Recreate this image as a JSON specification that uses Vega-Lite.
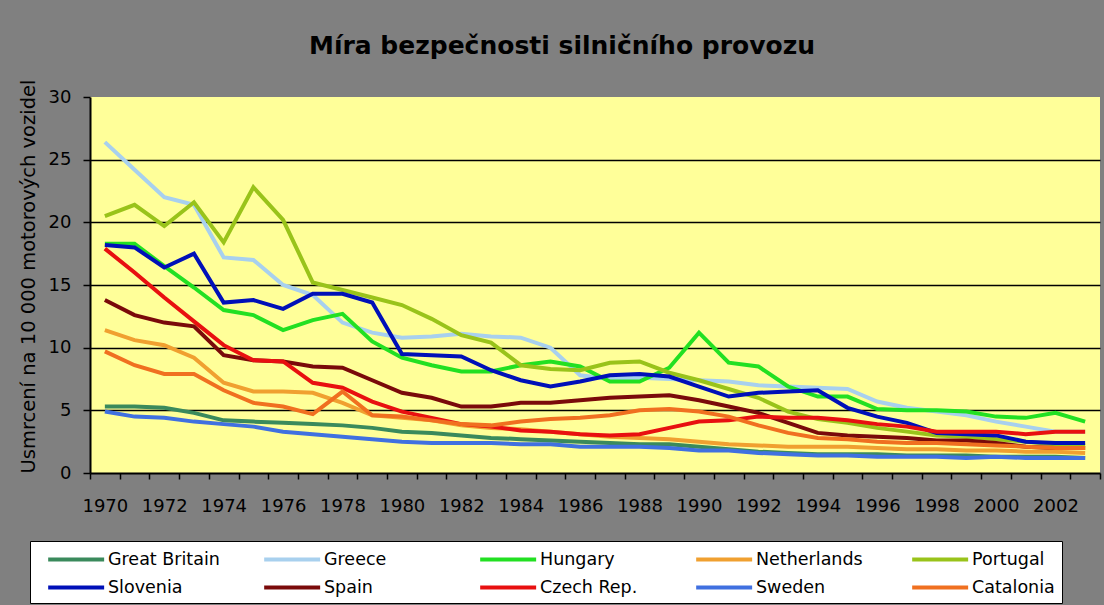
{
  "$schema": "https://vega.github.io/schema/vega-lite/v6.json",
  "width": 1010,
  "height": 376,
  "autosize": {"type": "none"},
  "padding": {"left": 90, "top": 97, "right": 4, "bottom": 132},
  "background": "#808080",
  "title": {"text": "Míra bezpečnosti silničního provozu", "font": "DejaVu Sans", "fontSize": 25, "fontWeight": "bold", "color": "black", "anchor": "middle", "dx": -33, "offset": 20},
  "config": {"view": {"fill": "#FFFF99", "stroke": null}},
  "datasets": {
    "main": [
      {"country": "Great Britain", "year": 1970, "value": 5.3}, {"country": "Great Britain", "year": 1971, "value": 5.3}, {"country": "Great Britain", "year": 1972, "value": 5.2}, {"country": "Great Britain", "year": 1973, "value": 4.8}, {"country": "Great Britain", "year": 1974, "value": 4.2}, {"country": "Great Britain", "year": 1975, "value": 4.1}, {"country": "Great Britain", "year": 1976, "value": 4.0}, {"country": "Great Britain", "year": 1977, "value": 3.9}, {"country": "Great Britain", "year": 1978, "value": 3.8}, {"country": "Great Britain", "year": 1979, "value": 3.6}, {"country": "Great Britain", "year": 1980, "value": 3.3}, {"country": "Great Britain", "year": 1981, "value": 3.2}, {"country": "Great Britain", "year": 1982, "value": 3.0}, {"country": "Great Britain", "year": 1983, "value": 2.8}, {"country": "Great Britain", "year": 1984, "value": 2.7}, {"country": "Great Britain", "year": 1985, "value": 2.6}, {"country": "Great Britain", "year": 1986, "value": 2.5}, {"country": "Great Britain", "year": 1987, "value": 2.4}, {"country": "Great Britain", "year": 1988, "value": 2.3}, {"country": "Great Britain", "year": 1989, "value": 2.3}, {"country": "Great Britain", "year": 1990, "value": 2.1}, {"country": "Great Britain", "year": 1991, "value": 1.9}, {"country": "Great Britain", "year": 1992, "value": 1.7}, {"country": "Great Britain", "year": 1993, "value": 1.6}, {"country": "Great Britain", "year": 1994, "value": 1.5}, {"country": "Great Britain", "year": 1995, "value": 1.5}, {"country": "Great Britain", "year": 1996, "value": 1.5}, {"country": "Great Britain", "year": 1997, "value": 1.4}, {"country": "Great Britain", "year": 1998, "value": 1.4}, {"country": "Great Britain", "year": 1999, "value": 1.4}, {"country": "Great Britain", "year": 2000, "value": 1.3}, {"country": "Great Britain", "year": 2001, "value": 1.3}, {"country": "Great Britain", "year": 2002, "value": 1.3}, {"country": "Great Britain", "year": 2003, "value": 1.2},
      {"country": "Greece", "year": 1970, "value": 26.4}, {"country": "Greece", "year": 1971, "value": 24.2}, {"country": "Greece", "year": 1972, "value": 22.0}, {"country": "Greece", "year": 1973, "value": 21.4}, {"country": "Greece", "year": 1974, "value": 17.2}, {"country": "Greece", "year": 1975, "value": 17.0}, {"country": "Greece", "year": 1976, "value": 15.0}, {"country": "Greece", "year": 1977, "value": 14.2}, {"country": "Greece", "year": 1978, "value": 12.0}, {"country": "Greece", "year": 1979, "value": 11.2}, {"country": "Greece", "year": 1980, "value": 10.8}, {"country": "Greece", "year": 1981, "value": 10.9}, {"country": "Greece", "year": 1982, "value": 11.1}, {"country": "Greece", "year": 1983, "value": 10.9}, {"country": "Greece", "year": 1984, "value": 10.8}, {"country": "Greece", "year": 1985, "value": 10.0}, {"country": "Greece", "year": 1986, "value": 7.8}, {"country": "Greece", "year": 1987, "value": 7.5}, {"country": "Greece", "year": 1988, "value": 7.6}, {"country": "Greece", "year": 1989, "value": 7.5}, {"country": "Greece", "year": 1990, "value": 7.4}, {"country": "Greece", "year": 1991, "value": 7.3}, {"country": "Greece", "year": 1992, "value": 7.0}, {"country": "Greece", "year": 1993, "value": 6.9}, {"country": "Greece", "year": 1994, "value": 6.8}, {"country": "Greece", "year": 1995, "value": 6.7}, {"country": "Greece", "year": 1996, "value": 5.7}, {"country": "Greece", "year": 1997, "value": 5.2}, {"country": "Greece", "year": 1998, "value": 4.9}, {"country": "Greece", "year": 1999, "value": 4.6}, {"country": "Greece", "year": 2000, "value": 4.1}, {"country": "Greece", "year": 2001, "value": 3.7}, {"country": "Greece", "year": 2002, "value": 3.3}, {"country": "Greece", "year": 2003, "value": 3.3},
      {"country": "Hungary", "year": 1970, "value": 18.3}, {"country": "Hungary", "year": 1971, "value": 18.3}, {"country": "Hungary", "year": 1972, "value": 16.5}, {"country": "Hungary", "year": 1973, "value": 14.8}, {"country": "Hungary", "year": 1974, "value": 13.0}, {"country": "Hungary", "year": 1975, "value": 12.6}, {"country": "Hungary", "year": 1976, "value": 11.4}, {"country": "Hungary", "year": 1977, "value": 12.2}, {"country": "Hungary", "year": 1978, "value": 12.7}, {"country": "Hungary", "year": 1979, "value": 10.5}, {"country": "Hungary", "year": 1980, "value": 9.2}, {"country": "Hungary", "year": 1981, "value": 8.6}, {"country": "Hungary", "year": 1982, "value": 8.1}, {"country": "Hungary", "year": 1983, "value": 8.1}, {"country": "Hungary", "year": 1984, "value": 8.6}, {"country": "Hungary", "year": 1985, "value": 8.9}, {"country": "Hungary", "year": 1986, "value": 8.5}, {"country": "Hungary", "year": 1987, "value": 7.3}, {"country": "Hungary", "year": 1988, "value": 7.3}, {"country": "Hungary", "year": 1989, "value": 8.4}, {"country": "Hungary", "year": 1990, "value": 11.2}, {"country": "Hungary", "year": 1991, "value": 8.8}, {"country": "Hungary", "year": 1992, "value": 8.5}, {"country": "Hungary", "year": 1993, "value": 6.9}, {"country": "Hungary", "year": 1994, "value": 6.1}, {"country": "Hungary", "year": 1995, "value": 6.1}, {"country": "Hungary", "year": 1996, "value": 5.1}, {"country": "Hungary", "year": 1997, "value": 5.0}, {"country": "Hungary", "year": 1998, "value": 5.0}, {"country": "Hungary", "year": 1999, "value": 4.9}, {"country": "Hungary", "year": 2000, "value": 4.5}, {"country": "Hungary", "year": 2001, "value": 4.4}, {"country": "Hungary", "year": 2002, "value": 4.8}, {"country": "Hungary", "year": 2003, "value": 4.1},
      {"country": "Netherlands", "year": 1970, "value": 11.4}, {"country": "Netherlands", "year": 1971, "value": 10.6}, {"country": "Netherlands", "year": 1972, "value": 10.2}, {"country": "Netherlands", "year": 1973, "value": 9.2}, {"country": "Netherlands", "year": 1974, "value": 7.2}, {"country": "Netherlands", "year": 1975, "value": 6.5}, {"country": "Netherlands", "year": 1976, "value": 6.5}, {"country": "Netherlands", "year": 1977, "value": 6.4}, {"country": "Netherlands", "year": 1978, "value": 5.6}, {"country": "Netherlands", "year": 1979, "value": 4.6}, {"country": "Netherlands", "year": 1980, "value": 4.4}, {"country": "Netherlands", "year": 1981, "value": 4.2}, {"country": "Netherlands", "year": 1982, "value": 3.8}, {"country": "Netherlands", "year": 1983, "value": 3.6}, {"country": "Netherlands", "year": 1984, "value": 3.5}, {"country": "Netherlands", "year": 1985, "value": 3.3}, {"country": "Netherlands", "year": 1986, "value": 3.1}, {"country": "Netherlands", "year": 1987, "value": 2.9}, {"country": "Netherlands", "year": 1988, "value": 2.8}, {"country": "Netherlands", "year": 1989, "value": 2.7}, {"country": "Netherlands", "year": 1990, "value": 2.5}, {"country": "Netherlands", "year": 1991, "value": 2.3}, {"country": "Netherlands", "year": 1992, "value": 2.2}, {"country": "Netherlands", "year": 1993, "value": 2.1}, {"country": "Netherlands", "year": 1994, "value": 2.1}, {"country": "Netherlands", "year": 1995, "value": 2.1}, {"country": "Netherlands", "year": 1996, "value": 2.0}, {"country": "Netherlands", "year": 1997, "value": 1.9}, {"country": "Netherlands", "year": 1998, "value": 1.9}, {"country": "Netherlands", "year": 1999, "value": 1.8}, {"country": "Netherlands", "year": 2000, "value": 1.8}, {"country": "Netherlands", "year": 2001, "value": 1.7}, {"country": "Netherlands", "year": 2002, "value": 1.7}, {"country": "Netherlands", "year": 2003, "value": 1.6},
      {"country": "Portugal", "year": 1970, "value": 20.5}, {"country": "Portugal", "year": 1971, "value": 21.4}, {"country": "Portugal", "year": 1972, "value": 19.7}, {"country": "Portugal", "year": 1973, "value": 21.6}, {"country": "Portugal", "year": 1974, "value": 18.4}, {"country": "Portugal", "year": 1975, "value": 22.8}, {"country": "Portugal", "year": 1976, "value": 20.2}, {"country": "Portugal", "year": 1977, "value": 15.2}, {"country": "Portugal", "year": 1978, "value": 14.6}, {"country": "Portugal", "year": 1979, "value": 14.0}, {"country": "Portugal", "year": 1980, "value": 13.4}, {"country": "Portugal", "year": 1981, "value": 12.3}, {"country": "Portugal", "year": 1982, "value": 11.0}, {"country": "Portugal", "year": 1983, "value": 10.4}, {"country": "Portugal", "year": 1984, "value": 8.6}, {"country": "Portugal", "year": 1985, "value": 8.3}, {"country": "Portugal", "year": 1986, "value": 8.2}, {"country": "Portugal", "year": 1987, "value": 8.8}, {"country": "Portugal", "year": 1988, "value": 8.9}, {"country": "Portugal", "year": 1989, "value": 8.0}, {"country": "Portugal", "year": 1990, "value": 7.4}, {"country": "Portugal", "year": 1991, "value": 6.7}, {"country": "Portugal", "year": 1992, "value": 6.0}, {"country": "Portugal", "year": 1993, "value": 4.9}, {"country": "Portugal", "year": 1994, "value": 4.3}, {"country": "Portugal", "year": 1995, "value": 4.0}, {"country": "Portugal", "year": 1996, "value": 3.6}, {"country": "Portugal", "year": 1997, "value": 3.3}, {"country": "Portugal", "year": 1998, "value": 3.0}, {"country": "Portugal", "year": 1999, "value": 2.9}, {"country": "Portugal", "year": 2000, "value": 2.7}, {"country": "Portugal", "year": 2001, "value": 2.5}, {"country": "Portugal", "year": 2002, "value": 2.3}, {"country": "Portugal", "year": 2003, "value": 2.2},
      {"country": "Slovenia", "year": 1970, "value": 18.2}, {"country": "Slovenia", "year": 1971, "value": 18.0}, {"country": "Slovenia", "year": 1972, "value": 16.4}, {"country": "Slovenia", "year": 1973, "value": 17.5}, {"country": "Slovenia", "year": 1974, "value": 13.6}, {"country": "Slovenia", "year": 1975, "value": 13.8}, {"country": "Slovenia", "year": 1976, "value": 13.1}, {"country": "Slovenia", "year": 1977, "value": 14.3}, {"country": "Slovenia", "year": 1978, "value": 14.3}, {"country": "Slovenia", "year": 1979, "value": 13.6}, {"country": "Slovenia", "year": 1980, "value": 9.5}, {"country": "Slovenia", "year": 1981, "value": 9.4}, {"country": "Slovenia", "year": 1982, "value": 9.3}, {"country": "Slovenia", "year": 1983, "value": 8.2}, {"country": "Slovenia", "year": 1984, "value": 7.4}, {"country": "Slovenia", "year": 1985, "value": 6.9}, {"country": "Slovenia", "year": 1986, "value": 7.3}, {"country": "Slovenia", "year": 1987, "value": 7.8}, {"country": "Slovenia", "year": 1988, "value": 7.9}, {"country": "Slovenia", "year": 1989, "value": 7.7}, {"country": "Slovenia", "year": 1990, "value": 6.9}, {"country": "Slovenia", "year": 1991, "value": 6.1}, {"country": "Slovenia", "year": 1992, "value": 6.4}, {"country": "Slovenia", "year": 1993, "value": 6.5}, {"country": "Slovenia", "year": 1994, "value": 6.6}, {"country": "Slovenia", "year": 1995, "value": 5.2}, {"country": "Slovenia", "year": 1996, "value": 4.5}, {"country": "Slovenia", "year": 1997, "value": 4.0}, {"country": "Slovenia", "year": 1998, "value": 3.2}, {"country": "Slovenia", "year": 1999, "value": 3.1}, {"country": "Slovenia", "year": 2000, "value": 3.0}, {"country": "Slovenia", "year": 2001, "value": 2.5}, {"country": "Slovenia", "year": 2002, "value": 2.4}, {"country": "Slovenia", "year": 2003, "value": 2.4},
      {"country": "Spain", "year": 1970, "value": 13.8}, {"country": "Spain", "year": 1971, "value": 12.6}, {"country": "Spain", "year": 1972, "value": 12.0}, {"country": "Spain", "year": 1973, "value": 11.7}, {"country": "Spain", "year": 1974, "value": 9.4}, {"country": "Spain", "year": 1975, "value": 9.0}, {"country": "Spain", "year": 1976, "value": 8.9}, {"country": "Spain", "year": 1977, "value": 8.5}, {"country": "Spain", "year": 1978, "value": 8.4}, {"country": "Spain", "year": 1979, "value": 7.4}, {"country": "Spain", "year": 1980, "value": 6.4}, {"country": "Spain", "year": 1981, "value": 6.0}, {"country": "Spain", "year": 1982, "value": 5.3}, {"country": "Spain", "year": 1983, "value": 5.3}, {"country": "Spain", "year": 1984, "value": 5.6}, {"country": "Spain", "year": 1985, "value": 5.6}, {"country": "Spain", "year": 1986, "value": 5.8}, {"country": "Spain", "year": 1987, "value": 6.0}, {"country": "Spain", "year": 1988, "value": 6.1}, {"country": "Spain", "year": 1989, "value": 6.2}, {"country": "Spain", "year": 1990, "value": 5.8}, {"country": "Spain", "year": 1991, "value": 5.3}, {"country": "Spain", "year": 1992, "value": 4.8}, {"country": "Spain", "year": 1993, "value": 4.0}, {"country": "Spain", "year": 1994, "value": 3.2}, {"country": "Spain", "year": 1995, "value": 3.0}, {"country": "Spain", "year": 1996, "value": 2.9}, {"country": "Spain", "year": 1997, "value": 2.8}, {"country": "Spain", "year": 1998, "value": 2.6}, {"country": "Spain", "year": 1999, "value": 2.6}, {"country": "Spain", "year": 2000, "value": 2.4}, {"country": "Spain", "year": 2001, "value": 2.1}, {"country": "Spain", "year": 2002, "value": 2.0}, {"country": "Spain", "year": 2003, "value": 2.0},
      {"country": "Czech Rep.", "year": 1970, "value": 17.9}, {"country": "Czech Rep.", "year": 1971, "value": 16.0}, {"country": "Czech Rep.", "year": 1972, "value": 14.0}, {"country": "Czech Rep.", "year": 1973, "value": 12.1}, {"country": "Czech Rep.", "year": 1974, "value": 10.2}, {"country": "Czech Rep.", "year": 1975, "value": 9.0}, {"country": "Czech Rep.", "year": 1976, "value": 8.9}, {"country": "Czech Rep.", "year": 1977, "value": 7.2}, {"country": "Czech Rep.", "year": 1978, "value": 6.8}, {"country": "Czech Rep.", "year": 1979, "value": 5.7}, {"country": "Czech Rep.", "year": 1980, "value": 4.9}, {"country": "Czech Rep.", "year": 1981, "value": 4.4}, {"country": "Czech Rep.", "year": 1982, "value": 3.9}, {"country": "Czech Rep.", "year": 1983, "value": 3.7}, {"country": "Czech Rep.", "year": 1984, "value": 3.4}, {"country": "Czech Rep.", "year": 1985, "value": 3.3}, {"country": "Czech Rep.", "year": 1986, "value": 3.1}, {"country": "Czech Rep.", "year": 1987, "value": 3.0}, {"country": "Czech Rep.", "year": 1988, "value": 3.1}, {"country": "Czech Rep.", "year": 1989, "value": 3.6}, {"country": "Czech Rep.", "year": 1990, "value": 4.1}, {"country": "Czech Rep.", "year": 1991, "value": 4.2}, {"country": "Czech Rep.", "year": 1992, "value": 4.5}, {"country": "Czech Rep.", "year": 1993, "value": 4.4}, {"country": "Czech Rep.", "year": 1994, "value": 4.4}, {"country": "Czech Rep.", "year": 1995, "value": 4.2}, {"country": "Czech Rep.", "year": 1996, "value": 3.9}, {"country": "Czech Rep.", "year": 1997, "value": 3.7}, {"country": "Czech Rep.", "year": 1998, "value": 3.3}, {"country": "Czech Rep.", "year": 1999, "value": 3.3}, {"country": "Czech Rep.", "year": 2000, "value": 3.3}, {"country": "Czech Rep.", "year": 2001, "value": 3.1}, {"country": "Czech Rep.", "year": 2002, "value": 3.3}, {"country": "Czech Rep.", "year": 2003, "value": 3.3},
      {"country": "Sweden", "year": 1970, "value": 4.9}, {"country": "Sweden", "year": 1971, "value": 4.5}, {"country": "Sweden", "year": 1972, "value": 4.4}, {"country": "Sweden", "year": 1973, "value": 4.1}, {"country": "Sweden", "year": 1974, "value": 3.9}, {"country": "Sweden", "year": 1975, "value": 3.7}, {"country": "Sweden", "year": 1976, "value": 3.3}, {"country": "Sweden", "year": 1977, "value": 3.1}, {"country": "Sweden", "year": 1978, "value": 2.9}, {"country": "Sweden", "year": 1979, "value": 2.7}, {"country": "Sweden", "year": 1980, "value": 2.5}, {"country": "Sweden", "year": 1981, "value": 2.4}, {"country": "Sweden", "year": 1982, "value": 2.4}, {"country": "Sweden", "year": 1983, "value": 2.4}, {"country": "Sweden", "year": 1984, "value": 2.3}, {"country": "Sweden", "year": 1985, "value": 2.3}, {"country": "Sweden", "year": 1986, "value": 2.1}, {"country": "Sweden", "year": 1987, "value": 2.1}, {"country": "Sweden", "year": 1988, "value": 2.1}, {"country": "Sweden", "year": 1989, "value": 2.0}, {"country": "Sweden", "year": 1990, "value": 1.8}, {"country": "Sweden", "year": 1991, "value": 1.8}, {"country": "Sweden", "year": 1992, "value": 1.6}, {"country": "Sweden", "year": 1993, "value": 1.5}, {"country": "Sweden", "year": 1994, "value": 1.4}, {"country": "Sweden", "year": 1995, "value": 1.4}, {"country": "Sweden", "year": 1996, "value": 1.3}, {"country": "Sweden", "year": 1997, "value": 1.3}, {"country": "Sweden", "year": 1998, "value": 1.3}, {"country": "Sweden", "year": 1999, "value": 1.2}, {"country": "Sweden", "year": 2000, "value": 1.3}, {"country": "Sweden", "year": 2001, "value": 1.2}, {"country": "Sweden", "year": 2002, "value": 1.2}, {"country": "Sweden", "year": 2003, "value": 1.2},
      {"country": "Catalonia", "year": 1970, "value": 9.7}, {"country": "Catalonia", "year": 1971, "value": 8.6}, {"country": "Catalonia", "year": 1972, "value": 7.9}, {"country": "Catalonia", "year": 1973, "value": 7.9}, {"country": "Catalonia", "year": 1974, "value": 6.6}, {"country": "Catalonia", "year": 1975, "value": 5.6}, {"country": "Catalonia", "year": 1976, "value": 5.3}, {"country": "Catalonia", "year": 1977, "value": 4.7}, {"country": "Catalonia", "year": 1978, "value": 6.5}, {"country": "Catalonia", "year": 1979, "value": 4.6}, {"country": "Catalonia", "year": 1980, "value": 4.5}, {"country": "Catalonia", "year": 1981, "value": 4.2}, {"country": "Catalonia", "year": 1982, "value": 3.9}, {"country": "Catalonia", "year": 1983, "value": 3.8}, {"country": "Catalonia", "year": 1984, "value": 4.1}, {"country": "Catalonia", "year": 1985, "value": 4.3}, {"country": "Catalonia", "year": 1986, "value": 4.4}, {"country": "Catalonia", "year": 1987, "value": 4.6}, {"country": "Catalonia", "year": 1988, "value": 5.0}, {"country": "Catalonia", "year": 1989, "value": 5.1}, {"country": "Catalonia", "year": 1990, "value": 4.9}, {"country": "Catalonia", "year": 1991, "value": 4.5}, {"country": "Catalonia", "year": 1992, "value": 3.8}, {"country": "Catalonia", "year": 1993, "value": 3.2}, {"country": "Catalonia", "year": 1994, "value": 2.8}, {"country": "Catalonia", "year": 1995, "value": 2.7}, {"country": "Catalonia", "year": 1996, "value": 2.5}, {"country": "Catalonia", "year": 1997, "value": 2.4}, {"country": "Catalonia", "year": 1998, "value": 2.4}, {"country": "Catalonia", "year": 1999, "value": 2.3}, {"country": "Catalonia", "year": 2000, "value": 2.2}, {"country": "Catalonia", "year": 2001, "value": 2.1}, {"country": "Catalonia", "year": 2002, "value": 2.0}, {"country": "Catalonia", "year": 2003, "value": 2.0}
    ]
  },
  "data": {"name": "main"},
  "mark": {"type": "line", "strokeWidth": 4},
  "encoding": {
    "x": {
      "field": "year", "type": "quantitative",
      "scale": {"domain": [1969.5, 2003.5], "nice": false, "zero": false},
      "axis": {
        "values": [1969.5, 1970.5, 1971.5, 1972.5, 1973.5, 1974.5, 1975.5, 1976.5, 1977.5, 1978.5, 1979.5, 1980.5, 1981.5, 1982.5, 1983.5, 1984.5, 1985.5, 1986.5, 1987.5, 1988.5, 1989.5, 1990.5, 1991.5, 1992.5, 1993.5, 1994.5, 1995.5, 1996.5, 1997.5, 1998.5, 1999.5, 2000.5, 2001.5, 2002.5, 2003.5],
        "labelExpr": "(datum.value - 1969.5) % 2 == 0 && datum.value < 2003 ? format(datum.value + 0.5, 'd') : ''",
        "labelOffset": 14.85,
        "title": null,
        "grid": false,
        "tickSize": 6,
        "tickColor": "black",
        "tickWidth": 1.5,
        "domainColor": "black",
        "domainWidth": 2,
        "labelFont": "DejaVu Sans",
        "labelFontSize": 18,
        "labelColor": "black",
        "labelPadding": 18,
        "labelOverlap": false,
        "labelFlush": false,
        "labelBound": false
      }
    },
    "y": {
      "field": "value", "type": "quantitative",
      "scale": {"domain": [0, 30], "nice": false},
      "axis": {
        "values": [0, 5, 10, 15, 20, 25, 30],
        "title": "Usmrcení na 10 000 motorových vozidel",
        "titleFont": "DejaVu Sans",
        "titleFontSize": 19.5,
        "titleFontWeight": "normal",
        "titleColor": "black",
        "titlePadding": 10,
        "titleY": 179,
        "grid": true,
        "gridColor": {"condition": {"test": "datum.value == 0 || datum.value == 30", "value": "transparent"}, "value": "black"},
        "gridWidth": 1.5,
        "tickSize": 7,
        "tickColor": "black",
        "tickWidth": 1.5,
        "domainColor": "black",
        "domainWidth": 2,
        "labelFont": "DejaVu Sans",
        "labelFontSize": 18,
        "labelColor": "black",
        "labelPadding": 12
      }
    },
    "color": {
      "field": "country", "type": "nominal",
      "scale": {
        "domain": ["Great Britain", "Greece", "Hungary", "Netherlands", "Portugal", "Slovenia", "Spain", "Czech Rep.", "Sweden", "Catalonia"],
        "range": ["#3A8A5C", "#A8D0EE", "#22E022", "#F0A030", "#99C31A", "#0010B8", "#7A0A0A", "#E81010", "#4070E0", "#F07020"]
      },
      "legend": {
        "orient": "none",
        "legendX": -60,
        "legendY": 444,
        "direction": "horizontal",
        "columns": 5,
        "title": null,
        "fillColor": "white",
        "strokeColor": "black",
        "padding": 7,
        "symbolType": "M-1,0H5",
        "symbolSize": 348,
        "symbolStrokeWidth": 4,
        "labelFont": "DejaVu Sans",
        "labelFontSize": 17.5,
        "labelColor": "black",
        "labelOffset": 39,
        "columnPadding": 33,
        "rowPadding": 8,
        "gridAlign": "all",
        "labelLimit": 300,
        "symbolOffset": 9
      }
    }
  }
}
